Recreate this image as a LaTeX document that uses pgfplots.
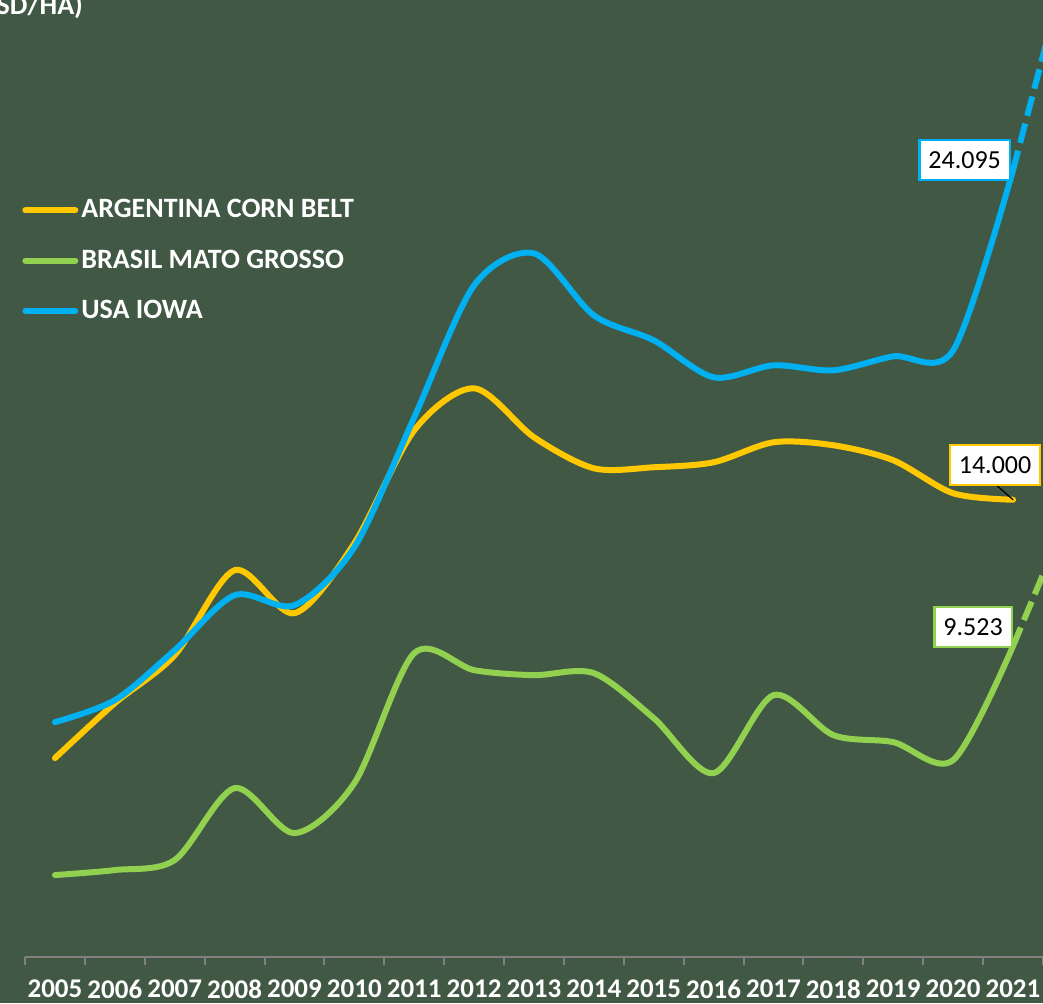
\documentclass[border=0pt]{standalone}
\usepackage{pgfplots}
\pgfplotsset{compat=1.18}
\usepackage{fontspec}
\setmainfont{Carlito}
\definecolor{bg}{RGB}{64,88,68}
\definecolor{corn}{RGB}{255,200,0}
\definecolor{mato}{RGB}{146,208,80}
\definecolor{iowa}{RGB}{0,176,240}
\definecolor{axisgray}{RGB}{128,128,128}

\begin{document}
\begin{tikzpicture}
\fill[bg] (0,0) rectangle (521.5pt,501.5pt);
\useasboundingbox (0,0) rectangle (521.5pt,501.5pt);
\begin{axis}[
  at={(12.5pt,23pt)}, anchor=south west,
  scale only axis, width=509pt, height=478.5pt,
  xmin=2004.5, xmax=2021.5, ymin=0, ymax=29300,
  axis x line=bottom, axis y line=none,
  x axis line style={-, axisgray, line width=1pt},
  xtick={2005,...,2021},
  xticklabels={2005,2006,2007,2008,2009,2010,2011,2012,2013,2014,2015,2016,2017,2018,2019,2020,2021},
  xticklabel style={text=white, font=\bfseries\fontsize{13.5}{15}\selectfont, yshift=-3.5pt},
  major x tick style={draw=none},
  minor xtick={2004.5,2005.5,2006.5,2007.5,2008.5,2009.5,2010.5,2011.5,2012.5,2013.5,2014.5,2015.5,2016.5,2017.5,2018.5,2019.5,2020.5,2021.5},
  minor x tick style={axisgray, line width=1pt},
  minor tick length=4pt, tick align=outside,
  ytick=\empty,
  legend cell align=left,
  legend style={at={(axis description cs:-0.003,0.795)}, anchor=north west,
    draw=none, fill=none, text=white, font=\bfseries\fontsize{14}{16}\selectfont,
    row sep=11.5pt, inner sep=0pt, nodes={inner sep=1.5pt}},
  legend image code/.code={\draw[#1, sharp plot, line width=3pt, line cap=round] (0pt,0pt) -- (25pt,0pt);},
]
\addplot[corn, line width=3pt, smooth, line cap=round] coordinates {
(2005,6089) (2006,7772) (2007,9241) (2008,11842) (2009,10526) (2010,12668)
(2011,16126) (2012,17411) (2013,15912) (2014,14963) (2015,14994) (2016,15147)
(2017,15759) (2018,15667) (2019,15208) (2020,14198) (2021,14000)};
\addlegendentry{ARGENTINA CORN BELT}
\addplot[mato, line width=3pt, smooth, line cap=round] coordinates {
(2005,2509) (2006,2662) (2007,2968) (2008,5171) (2009,3794) (2010,5324)
(2011,9302) (2012,8782) (2013,8629) (2014,8690) (2015,7313) (2016,5630)
(2017,8017) (2018,6793) (2019,6579) (2020,6028) (2021,9523)};
\addlegendentry{BRASIL MATO GROSSO}
\addplot[iowa, line width=3pt, smooth, line cap=round] coordinates {
(2005,7191) (2006,7864) (2007,9394) (2008,11077) (2009,10771) (2010,12546)
(2011,16524) (2012,20563) (2013,21542) (2014,19645) (2015,18880) (2016,17748)
(2017,18115) (2018,17962) (2019,18391) (2020,18574) (2021,24095)};
\addlegendentry{USA IOWA}
\addplot[iowa, line width=3pt, dash pattern=on 10pt off 4pt, forget plot] coordinates {(2021,24095) (2022,31100)};
\addplot[mato, line width=3pt, dash pattern=on 10pt off 4pt, forget plot] coordinates {(2021,9523) (2022,13900)};

\draw[black, line width=0.6pt] (axis cs:2021,14000) -- ++(-8pt,7pt);
\node[draw=iowa, line width=1.2pt, fill=white, text=black, inner xsep=4.5pt, minimum height=20pt, anchor=east, font=\fontsize{13}{15}\selectfont]
  at ([xshift=-1pt,yshift=5pt]axis cs:2021,24095) {24.095};
\node[draw=corn, line width=1.2pt, fill=white, text=black, inner xsep=4.5pt, minimum height=20pt, font=\fontsize{13}{15}\selectfont]
  at ([xshift=-9pt,yshift=17.5pt]axis cs:2021,14000) {14.000};
\node[draw=mato, line width=1.2pt, fill=white, text=black, inner xsep=4.5pt, minimum height=20pt, font=\fontsize{13}{15}\selectfont]
  at ([xshift=-20pt,yshift=9.5pt]axis cs:2021,9523) {9.523};
\end{axis}
\node[anchor=base east, text=white, font=\bfseries\fontsize{14}{16}\selectfont] at (45pt,494pt) {SD/HA)};
\end{tikzpicture}
\end{document}
